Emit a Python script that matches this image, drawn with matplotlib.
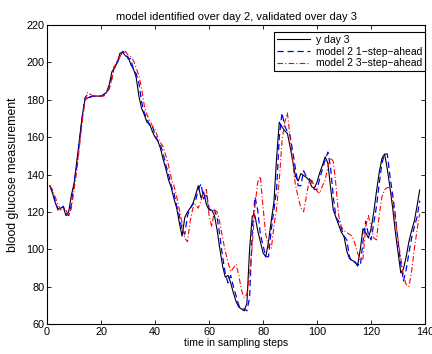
import numpy as np
import matplotlib
matplotlib.use("Agg")
import matplotlib.pyplot as plt

plt.rcParams['font.family'] = ['Liberation Sans', 'DejaVu Sans']

# glucose values, sampling steps 1..138
y_day3 = [134, 130, 125, 121.5, 122, 122.7, 118, 120, 129, 135,
          147, 159, 171, 180, 181, 181.5, 182, 182, 182, 182,
          183, 184, 188, 195, 197, 200, 205, 205.5, 203.5, 203,
          199, 196.5, 192, 182, 175.5, 172, 168, 167, 163, 160,
          158, 154, 148, 143, 137, 133, 127, 122, 114, 107,
          117, 120, 122, 124.5, 129, 134, 127.5, 130.5, 124, 121,
          121, 118, 110, 100, 91, 85, 86, 82, 76.6, 72,
          69, 68, 67, 71, 100, 117.8, 118, 110, 104, 98,
          96, 104, 115, 125, 149, 168, 165.5, 163.5, 162, 155,
          147, 139, 136.5, 140.5, 139.5, 138.5, 137, 133.5, 132.7, 136,
          141, 145, 149.5, 146, 133, 121, 117, 113, 109, 106.7,
          99, 95, 94, 93.3, 91, 100, 111, 109, 106, 111,
          120, 131, 141, 148.6, 151, 143, 133, 122, 109, 98,
          87.3, 89.5, 96, 104, 110, 115, 123, 131.7]

pred_1step = [134, 131, 126, 121, 121.5, 123, 119, 118, 124, 136,
              144, 158, 170, 181, 183, 181.5, 182, 182, 182, 182,
              182.5, 184, 186, 192, 199, 200, 203, 206, 205, 202,
              202, 196, 194, 189, 179, 173, 170, 166, 166, 161,
              158, 156, 151, 145, 140, 134, 130, 123, 118, 110,
              108, 118, 122, 124, 126, 132, 135, 127, 130, 122,
              120, 121, 117, 107, 96, 87, 82, 86, 80, 75,
              70, 68, 68, 67, 74, 110, 128, 121, 108, 102,
              96, 96, 110, 121, 132, 160, 173, 166, 163, 161,
              152, 143, 134, 134, 142, 139, 138, 136, 132, 132,
              138, 143, 148, 152, 144, 128, 117, 115, 111, 107,
              105, 96, 93, 93, 92, 91, 104, 115, 108, 105,
              114, 123, 135, 146, 151, 151, 139, 129, 118, 104,
              92, 83, 89, 98, 106, 112, 117, 126]

pred_3step = [134, 132, 128, 124, 121, 122, 121, 118, 122, 132,
              142, 155, 168, 179, 184, 183, 182, 182, 182, 182,
              182, 183.5, 186, 191, 198, 201, 203, 206, 206, 204,
              203, 201, 197, 193, 186, 177, 172, 169, 166, 164,
              160, 157, 155, 150, 145, 138, 134, 128, 121, 114,
              106, 104, 115, 122, 124, 122, 126, 131, 132, 118,
              112, 121, 120, 114, 106, 99, 93, 88, 90, 92,
              86, 78, 74, 76, 86, 102, 123, 136, 139, 122,
              108, 101, 100, 112, 122, 137, 158, 168, 173, 160,
              146, 134, 128, 122, 120, 128, 136, 137, 134, 131,
              130, 134, 137, 144, 149, 147, 134, 118, 112, 110,
              109, 108, 107, 103, 98, 94, 95, 112, 118, 112,
              106, 105, 118, 128, 132, 133, 133, 126, 116, 105,
              95, 86, 81, 80, 88, 100, 110, 119]

steps = np.arange(1, len(y_day3) + 1)

fig = plt.figure(figsize=(4.32, 3.54), dpi=100)
ax = fig.add_axes([0.109, 0.085, 0.875, 0.844])

ax.plot(steps, y_day3, color='black', lw=0.8, label='y day 3')
ax.plot(steps, pred_1step, color='blue', lw=0.9, ls=(0, (5, 3)), label='model 2 1\u2212step\u2212ahead')
ax.plot(steps, pred_3step, color='red', lw=0.8, ls=(0, (5, 2, 1, 2)), label='model 2 3\u2212step\u2212ahead')

ax.set_xlim(0, 140)
ax.set_ylim(60, 220)
ax.set_xticks(np.arange(0, 141, 20))
ax.set_yticks(np.arange(60, 221, 20))
ax.tick_params(direction='in', top=True, right=True, labelsize=7.8, length=3, width=0.6, pad=2)
for s in ax.spines.values():
    s.set_linewidth(0.8)

ax.set_title('model identified over day 2, validated over day 3', fontsize=8.0, pad=4)
ax.set_xlabel('time in sampling steps', fontsize=7.6, labelpad=1)
ax.set_ylabel('blood glucose measurement', fontsize=8.8, labelpad=5)

leg = ax.legend(loc='upper right', bbox_to_anchor=(1.0, 0.977), borderaxespad=0,
                fontsize=7.5, fancybox=False, edgecolor='black', framealpha=1,
                handlelength=3.2, labelspacing=0.15, borderpad=0.3, handletextpad=0.5)
leg.get_frame().set_linewidth(0.8)

fig.savefig('out.png', dpi=100)
